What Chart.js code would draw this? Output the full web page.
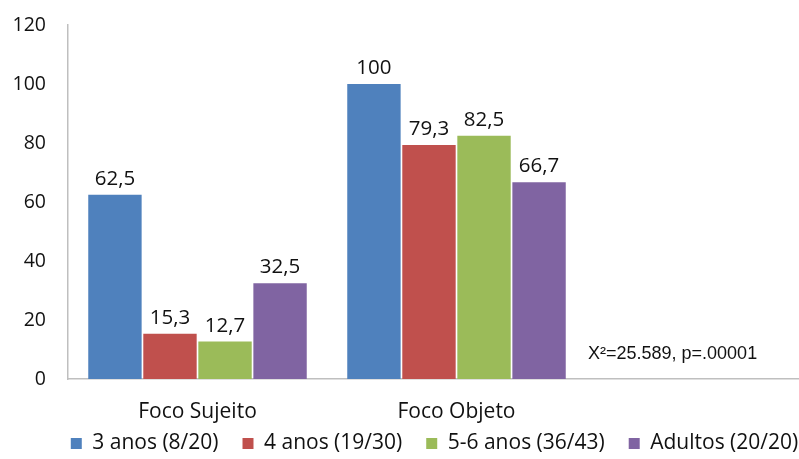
<!DOCTYPE html>
<html>
<head>
<meta charset="utf-8">
<script src="https://cdn.jsdelivr.net/npm/chart.js@4.4.0/dist/chart.umd.min.js"></script>
<style>
  html, body { margin: 0; padding: 0; background: #fff; overflow: hidden; }
  #wrap { width: 846px; height: 459px; }
</style>
</head>
<body>
<div id="wrap"><canvas id="myChart"></canvas></div>
<script>
// categories (third slot is empty, the picture is cut off on the right)
var categories = ['Foco Sujeito', 'Foco Objeto', ''];
var seriesNames = ['3 anos (8/20)', '4 anos (19/30)', '5-6 anos (36/43)', 'Adultos (20/20)'];
var tresAnos = [62.5, 100, null];
var quatroAnos = [15.3, 79.3, null];
var cincoSeisAnos = [12.7, 82.5, null];
var adultos = [32.5, 66.7, null];
var yTicks = [0, 20, 40, 60, 80, 100, 120];
var note = 'X²=25.589, p=.00001';

var colors = ['#4f81bd', '#c0504d', '#9bbb59', '#8064a2'];
var font = "'Open Sans', sans-serif";

// numbers above the bars, decimal comma
var valueLabels = {
  id: 'valueLabels',
  afterDatasetsDraw: function (chart) {
    var ctx = chart.ctx;
    ctx.save();
    ctx.font = '20.5px ' + font;
    ctx.fillStyle = '#111';
    ctx.textAlign = 'center';
    ctx.textBaseline = 'alphabetic';
    chart.data.datasets.forEach(function (ds, i) {
      chart.getDatasetMeta(i).data.forEach(function (bar, j) {
        var v = ds.data[j];
        if (v == null) return;
        ctx.fillText(String(v).replace('.', ','), bar.x, bar.y - 10);
      });
    });
    ctx.restore();
  }
};

// the chi-square note in the empty right part
var noteText = {
  id: 'noteText',
  afterDraw: function (chart) {
    var ctx = chart.ctx;
    var a = chart.chartArea;
    ctx.save();
    ctx.font = '18px "Liberation Sans", Arial, sans-serif';
    ctx.fillStyle = '#111';
    ctx.textAlign = 'left';
    ctx.textBaseline = 'alphabetic';
    ctx.fillText(note, a.left + 520, a.bottom - 20);
    ctx.restore();
  }
};

// legend sits closer to the axis labels than Chart.js would put it
var legendNudge = {
  id: 'legendNudge',
  afterLayout: function (chart) {
    var lg = chart.legend;
    lg.top -= 15; lg.bottom -= 15;
    lg.left += 12; lg.right += 12;
  }
};

var ctx = document.getElementById('myChart');
var chart = new Chart(ctx, {
  type: 'bar',
  data: {
    labels: categories,
    datasets: [
      { label: seriesNames[0], data: tresAnos, backgroundColor: colors[0] },
      { label: seriesNames[1], data: quatroAnos, backgroundColor: colors[1] },
      { label: seriesNames[2], data: cincoSeisAnos, backgroundColor: colors[2] },
      { label: seriesNames[3], data: adultos, backgroundColor: colors[3] }
    ]
  },
  options: {
    responsive: true,
    maintainAspectRatio: false,
    animation: false,
    categoryPercentage: 0.85,
    barPercentage: 0.97,
    layout: { padding: { top: 25, right: 1, bottom: -20, left: 0 } },
    plugins: {
      tooltip: { enabled: false },
      legend: {
        position: 'bottom',
        labels: {
          boxWidth: 11,
          boxHeight: 11,
          padding: 24,
          color: '#111',
          font: { family: font, size: 21 }
        }
      }
    },
    scales: {
      x: {
        afterFit: function (s) { s.height = 45; },
        grid: { display: false },
        border: { display: true, color: '#bfbfbf', width: 1.5 },
        ticks: { color: '#111', padding: 12, font: { family: font, size: 21 } }
      },
      y: {
        min: 0,
        max: 120,
        afterBuildTicks: function (s) { s.ticks = yTicks.map(function (v) { return { value: v }; }); },
        afterFit: function (s) { s.width = 68; s.paddingTop = 0; s.paddingBottom = 0; },
        grid: { display: false, drawTicks: false },
        border: { display: true, color: '#bfbfbf', width: 1.5 },
        ticks: { color: '#111', padding: 22, font: { family: font, size: 19.5 } }
      }
    }
  },
  plugins: [valueLabels, noteText, legendNudge]
});
</script>
</body>
</html>
